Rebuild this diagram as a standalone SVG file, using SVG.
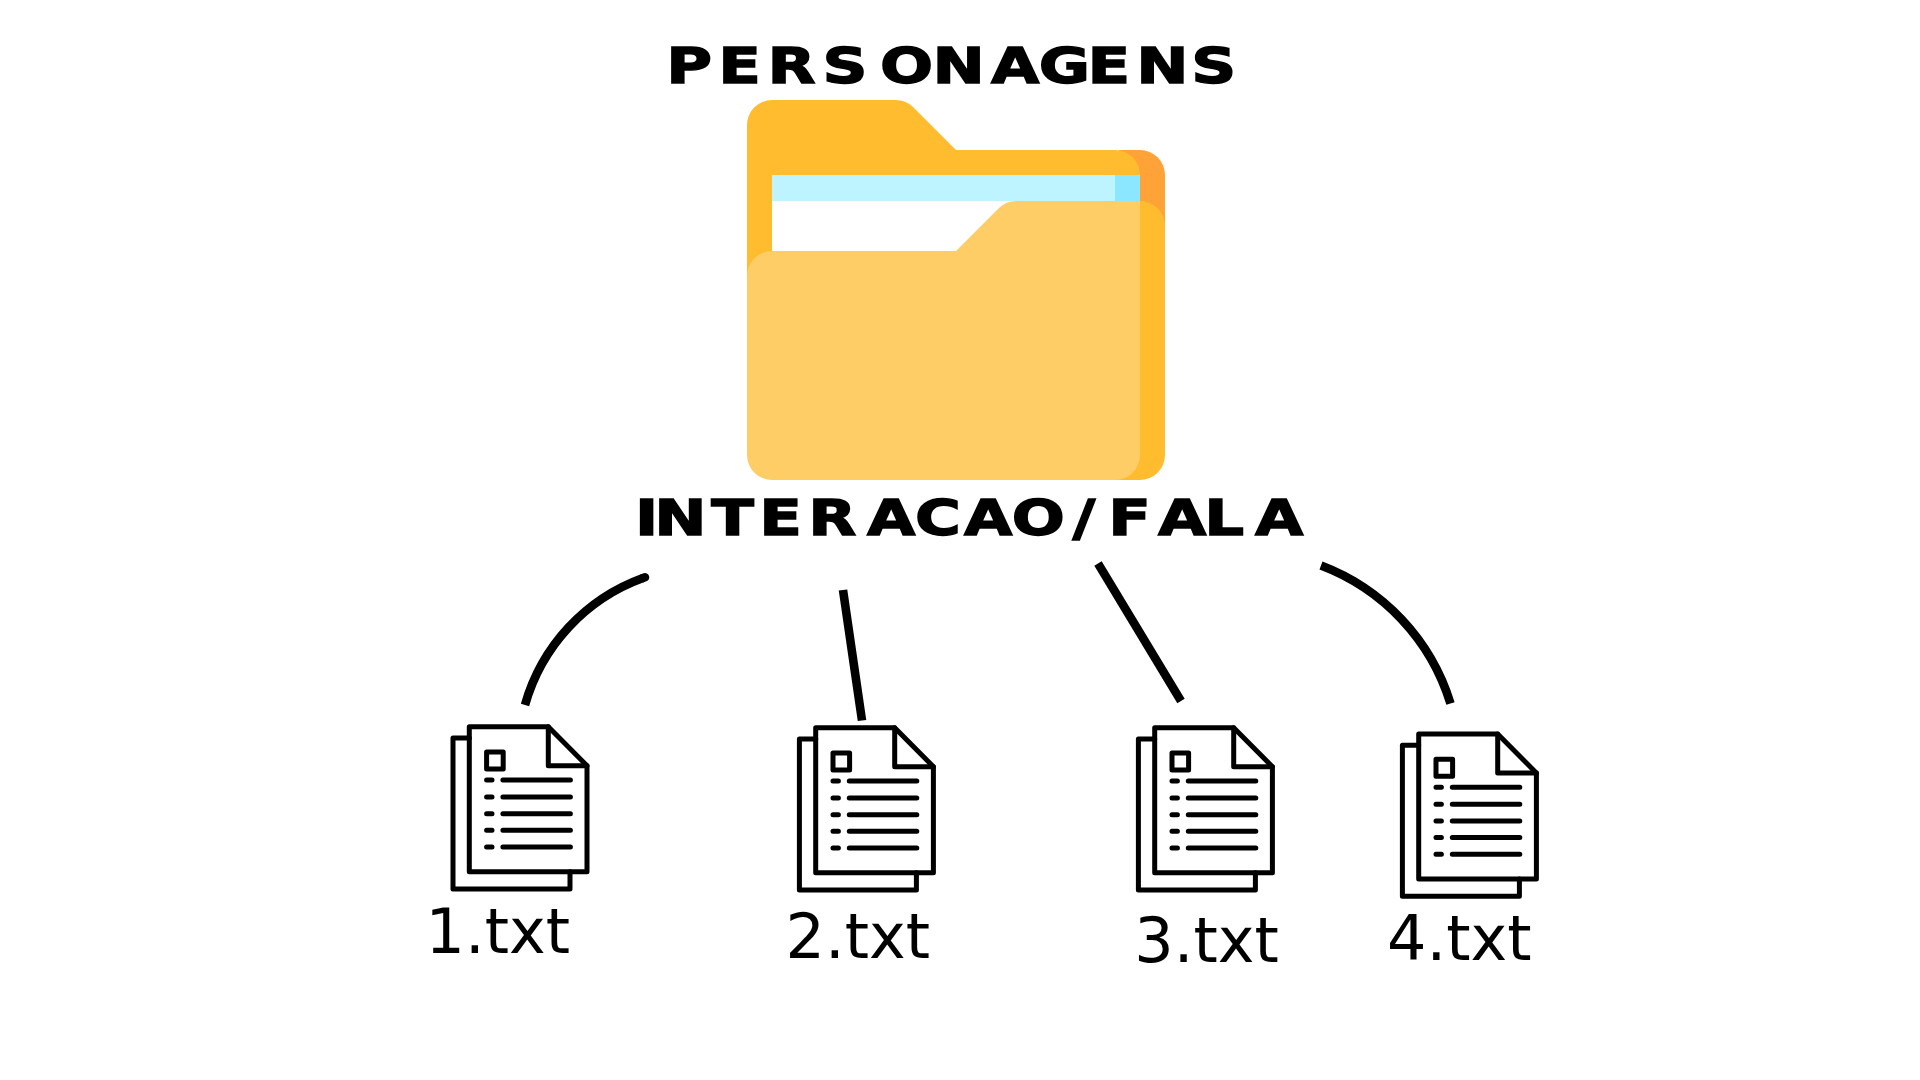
<svg xmlns="http://www.w3.org/2000/svg" width="1920" height="1080" viewBox="0 0 1920 1080">
<style>
.title{font-family:"DejaVu Sans",sans-serif;font-weight:700;font-size:50px;fill:#000;stroke:#000;stroke-width:1.4;font-kerning:none}
.label{font-family:"DejaVu Sans",sans-serif;font-size:62px;fill:#000}
.conn{fill:none;stroke:#000;stroke-width:8.6}
.doc{fill:none;stroke:#000;stroke-width:5;stroke-linejoin:round;stroke-linecap:round}
</style>
<defs>
<g id="doc" class="doc">
<path d="M0 11.3H-16.3V162.3H100.7V145"/>
<path d="M0 0H79L117.7 39V145H0Z"/>
<path d="M79 0V39H117.7"/>
<rect x="17.3" y="25.3" width="16.6" height="17"/>
<path d="M17.3 53.3H22.7M33.6 53.3H101.1M17.3 70.3H22.7M33.6 70.3H101.1M17.3 87H22.7M33.6 87H101.1M17.3 103.6H22.7M33.6 103.6H101.1M17.3 120.3H22.7M33.6 120.3H101.1"/>
</g>
</defs>
<rect width="1920" height="1080" fill="#fff"/>
<g id="title"><text class="title" transform="scale(1.25 1)" x="533 574.7 614 658 704 746 792.8 831 870 909 953" y="83">PERSONAGENS</text></g>
<g id="folder">
<path d="M1119 150H1140A25 25 0 0 1 1165 175V230H1119Z" fill="#ffa338"/>
<path d="M772 100H895A25 25 0 0 1 913 107L956 150H1115A25 25 0 0 1 1140 175V240H772V300H747V125A25 25 0 0 1 772 100Z" fill="#ffbc2e"/>
<rect x="772" y="175" width="368" height="90" fill="#fff"/>
<rect x="772" y="175" width="343" height="26" fill="#bdf4ff"/>
<rect x="1115" y="175" width="25" height="26" fill="#8be7ff"/>
<path d="M1140 201A25 25 0 0 1 1165 226V455A25 25 0 0 1 1140 480H1100V201Z" fill="#ffbc2e"/>
<path d="M772 251H956L999 208A25 25 0 0 1 1016 201H1140V455A25 25 0 0 1 1115 480H772A25 25 0 0 1 747 455V276A25 25 0 0 1 772 251Z" fill="#ffcd66"/>
</g>
<g id="subtitle"><text class="title" transform="scale(1.25 1)" x="508 523.5 569 607.5 646.7 693.6 732 771.2 809.5 858 886.7 926.4 963.5 1004" y="535">INTERACAO/FALA</text></g>
<g id="connectors">
<path class="conn" d="M525 705A190 190 0 0 1 643 578"/>
<path class="conn" d="M645 577.3L643 578" stroke-linecap="round"/>
<path class="conn" d="M843 590L862 720.5"/>
<path class="conn" d="M1098 563.5L1181 701"/>
<path class="conn" d="M1321 565.5A215 215 0 0 1 1450.5 703.5"/>
</g>
<g id="file1"><use href="#doc" x="469.3" y="726.7"/><text class="label" x="425.5" y="953">1.txt</text></g>
<g id="file2"><use href="#doc" x="815.7" y="727.7"/><text class="label" x="785.5" y="958">2.txt</text></g>
<g id="file3"><use href="#doc" x="1154.7" y="727.7"/><text class="label" x="1134.3" y="962">3.txt</text></g>
<g id="file4"><use href="#doc" x="1418.7" y="734"/><text class="label" x="1387" y="959.5">4.txt</text></g>
</svg>
